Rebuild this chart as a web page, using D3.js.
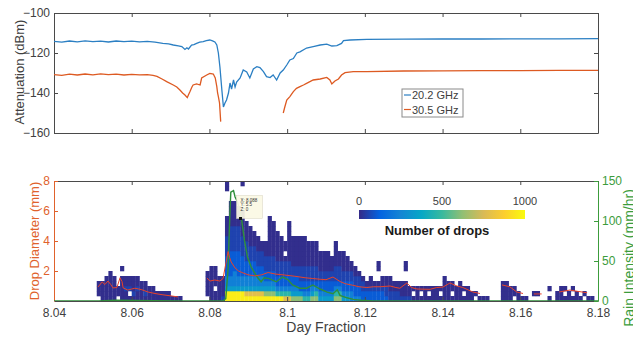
<!DOCTYPE html>
<html>
<head>
<meta charset="utf-8">
<script src="https://cdn.jsdelivr.net/npm/d3@7"></script>
<style>
  body { margin: 0; background: #fff; }
  svg { display: block; font-family: "Liberation Sans", Arial, Helvetica, sans-serif; }
</style>
</head>
<body>
<svg id="chart" width="633" height="337"></svg>
<script>
// ---- data ----
const xTicks = [8.04, 8.06, 8.08, 8.10, 8.12, 8.14, 8.16, 8.18];
const xTickLabels = ['8.04', '8.06', '8.08', '8.1', '8.12', '8.14', '8.16', '8.18'];
const attnTicks = [-160, -140, -120, -100];
const diamTicks = [2, 4, 6, 8];
const rainTicks = [0, 50, 100, 150];
const countTicks = [0, 500, 1000];

// 20.2 GHz beacon
const attn20Day = [8.0400, 8.0420, 8.0440, 8.0460, 8.0480, 8.0500, 8.0520, 8.0540, 8.0560, 8.0580,
  8.0600, 8.0620, 8.0640, 8.0660, 8.0680, 8.0695, 8.0707, 8.0720, 8.0729, 8.0737,
  8.0742, 8.0746, 8.0754, 8.0760, 8.0767, 8.0775, 8.0784, 8.0792, 8.0801, 8.0808,
  8.0814, 8.0819, 8.0823, 8.0827, 8.0832, 8.0836, 8.0840, 8.0844, 8.0849, 8.0853,
  8.0857, 8.0862, 8.0866, 8.0870, 8.0879, 8.0887, 8.0896, 8.0904, 8.0913, 8.0922,
  8.0930, 8.0939, 8.0947, 8.0956, 8.0964, 8.0973, 8.0982, 8.0990, 8.0999, 8.1007,
  8.1016, 8.1025, 8.1033, 8.1050, 8.1067, 8.1085, 8.1102, 8.1115, 8.1128, 8.1140,
  8.1145, 8.1162, 8.1205, 8.1300, 8.1400, 8.1500, 8.1600, 8.1700, 8.1800];
const attn20Val = [-114.2, -114.6, -114.0, -114.4, -113.9, -114.3, -114.1, -114.5, -114.0, -114.3,
  -114.1, -114.4, -114.2, -114.6, -115.2, -115.4, -116.0, -116.4, -116.8, -118.2,
  -117.4, -118.0, -116.0, -115.8, -115.2, -114.6, -114.3, -113.8, -113.5, -113.9,
  -114.5, -116.0, -120.0, -127.0, -138.5, -147.0, -145.0, -143.5, -140.0, -135.0,
  -138.0, -133.5, -137.0, -134.5, -132.5, -128.5, -129.5, -132.5, -128.0, -126.8,
  -127.3, -129.3, -131.8, -132.3, -131.0, -133.5, -130.0, -128.5, -126.0, -123.5,
  -122.8, -120.0, -119.4, -117.5, -116.8, -116.0, -115.6, -116.5, -116.3, -115.2,
  -113.8, -113.5, -113.2, -113.1, -113.0, -113.0, -112.9, -112.9, -112.8];

// 30.5 GHz beacon (null = no signal)
const attn30Day = [8.0400, 8.0420, 8.0440, 8.0460, 8.0480, 8.0500, 8.0520, 8.0540, 8.0560, 8.0580,
  8.0600, 8.0620, 8.0640, 8.0655, 8.0665, 8.0678, 8.0690, 8.0707, 8.0716, 8.0724,
  8.0731, 8.0737, 8.0743, 8.0747, 8.0750, 8.0755, 8.0758, 8.0767, 8.0776, 8.0780,
  8.0793, 8.0801, 8.0810, 8.0815, 8.0819, 8.0821, 8.0823, 8.0826, 8.0829, 8.0900,
  8.0990, 8.0994, 8.0999, 8.1007, 8.1016, 8.1024, 8.1033, 8.1042, 8.1050, 8.1067,
  8.1085, 8.1102, 8.1110, 8.1115, 8.1123, 8.1132, 8.1140, 8.1149, 8.1170, 8.1205,
  8.1300, 8.1400, 8.1500, 8.1600, 8.1700, 8.1800];
const attn30Val = [-130.8, -131.2, -130.6, -131.0, -130.5, -130.9, -130.4, -130.8, -130.6, -131.0,
  -130.7, -130.9, -130.8, -131.2, -131.7, -133.0, -134.3, -136.0, -137.0, -138.5,
  -140.0, -141.0, -142.3, -140.5, -139.3, -137.0, -136.0, -135.5, -136.0, -132.5,
  -131.0, -130.2, -130.5, -132.5, -136.8, -140.0, -141.8, -145.0, -154.3, null,
  -150.0, -147.0, -143.5, -141.8, -139.3, -137.7, -136.8, -136.0, -135.2, -133.5,
  -133.0, -132.2, -133.5, -135.5, -134.0, -133.0, -131.0, -129.8, -129.3, -129.3,
  -129.0, -128.9, -128.8, -128.8, -128.7, -128.7];

// disdrometer histogram: one string per time bin, drop-size rows from the bottom up,
// digit = count class ('.' = no drops)
const dropBinStart = 8.04;
const dropBinWidth = 0.001;   // day
const dropRowHeight = 1 / 3;  // mm
const dropClassCounts = [0, 8, 55, 110, 230, 330, 470, 620, 780, 960];
const dropCols = [
  "", "", "", "", "", "", "", "", "", "",
  "", ".111", "1111", "11111", "111111", "11111", ".11", "11111.1", "11211", "1.211",
  "12111", "11211", "1111", "1211", "111", "111", "11", "11", "11", "11",
  "1", "1", "1", "", "", "", "", "", "", ".11111",
  "1111111", "11.1111", "11111", "21111", "99544333322221111.....11", "99544333332222211111",
  "99544433332222211111", "9954433333222221111", "995443333222211111.....1", "9854433322221111",
  "985443332221111", "98544333222111", "9854433222111", "985443322211", "975433222111",
  "97543322211111111", "9754332221111111", "96433222111111", "9643322211111", "864332221.11",
  "8643322211111111", "7543322111111", "7543322111111", "7533222111111", "6433222111111",
  "643322211111", "754322211111", "764322211111", "5433221111", "5433221111",
  "5433221111", "543322111", "764322211111", "7643222111", "5433221111",
  "543322111", "44332211", "4332211", "433221", "33221",
  "3321", "33211", "3321", "3321..11", "33211", "32211", "22111", "2211", "2211", "2111",
  "2111..11", "211", "1.1", "111", "1.1", "111", "1.1", "111", "111", "1.1",
  "11111", "1111", "1.11", "111", "1111", "1.1", "111", "11", ".1", "1",
  "1", "1", "", "", "", "1111", "1111", "111", ".11", "11",
  "1", "1", "", ".1", ".1", "", "", "1.1", "", "11",
  "111", "1.1", "11", "1.1", "11", "1", ".1", "1", "1", ""
];

// mean drop diameter (mm), null = gap
const diamDay = [8.0513, 8.0524, 8.0531, 8.0539, 8.0546, 8.0552, 8.0562, 8.0570, 8.0575, 8.0578,
  8.0590, 8.0600, 8.0608, 8.0618, 8.0626, 8.0642, 8.0660, 8.0678, 8.0704, 8.0719,
  8.0750, 8.0794, 8.0801, 8.0814, 8.0827, 8.0835, 8.0843, 8.0848, 8.0852, 8.0856,
  8.0866, 8.0875, 8.0884, 8.0899, 8.0917, 8.0935, 8.0951, 8.0969, 8.0994, 8.1020,
  8.1046, 8.1066, 8.1085, 8.1100, 8.1118, 8.1136, 8.1150, 8.1169, 8.1185, 8.1205,
  8.1222, 8.1239, 8.1265, 8.1280, 8.1290, 8.1308, 8.1320, 8.1334, 8.1368, 8.1385,
  8.1401, 8.1419, 8.1437, 8.1452, 8.1478, 8.1496, 8.1520, 8.1553, 8.1573, 8.1591,
  8.1607, 8.1620, 8.1635, 8.1655, 8.1680, 8.1700, 8.1710, 8.1728, 8.1746, 8.1772];
const diamVal = [0.93, 1.27, 1.10, 1.33, 1.10, 0.87, 0.90, 1.55, 1.30, 0.87,
  0.73, 0.80, 0.85, 0.80, 0.75, 0.60, 0.50, 0.42, 0.33, 0.27,
  null, 1.53, 1.33, 1.40, 1.33, 1.50, 2.60, 3.30, 2.90, 2.60,
  2.20, 2.00, 1.90, 1.75, 1.67, 1.75, 1.90, 1.80, 1.73, 1.65,
  1.55, 1.50, 1.45, 1.42, 1.60, 1.30, 1.15, 1.05, 0.95, 0.90,
  0.95, 0.95, 1.00, 0.90, 0.85, 1.20, 0.90, 0.80, 0.78, 0.90,
  0.93, 1.20, 1.00, 0.90, 0.60, 0.50, null, 1.07, 0.95, 0.60,
  0.50, null, 0.47, 0.47, null, 0.60, 0.65, 0.73, 0.65, 0.55];

// rain intensity (mm/hr)
const rainDay = [8.0400, 8.0515, 8.0560, 8.0660, 8.0720, 8.0800, 8.0835, 8.0842, 8.0848, 8.0852,
  8.0855, 8.0862, 8.0866, 8.0872, 8.0882, 8.0890, 8.0898, 8.0907, 8.0915, 8.0923,
  8.0933, 8.0941, 8.0954, 8.0972, 8.0988, 8.1001, 8.1014, 8.1032, 8.1050, 8.1066,
  8.1085, 8.1103, 8.1118, 8.1129, 8.1136, 8.1154, 8.1170, 8.1190, 8.1220, 8.1800];
const rainVal = [0, 0, 1, 0.5, 0, 0, 0, 3, 40, 100,
  136, 138, 130, 124, 105, 76, 55, 43, 36, 30,
  24, 29, 28, 24, 30, 27, 20, 16, 16, 20,
  15, 11, 9, 14, 7, 4, 2, 1, 0, 0];

// data tip
const tipX = 8.088, tipY = 5.5, tipZ = 0;

// ---- drawing ----
const svg = d3.select('#chart');
const grey = '#4a4a4a', textGrey = '#404040';
const orange = '#e0622c', green = '#3c9c3c';
const parulaStops = ['#352a87', '#0363e1', '#1485d4', '#06a7c6', '#38b99e', '#92bf73', '#d9ba56', '#fcce2e', '#f9fb0e'];
const color = d3.scaleLinear().domain(d3.range(9).map(i => i * 125)).range(parulaStops).clamp(true);

const x = d3.scaleLinear().domain([8.04, 8.18]).range([54, 598]);
const yAttn = d3.scaleLinear().domain([-160, -100]).range([133, 13]);
const yDiam = d3.scaleLinear().domain([0, 8]).range([301, 181]);
const yRain = d3.scaleLinear().domain([0, 150]).range([301, 181]);
const xCount = d3.scaleLinear().domain([0, 1000]).range([359, 525]);

function styleAxis(g, lineColor, txtColor, size) {
  g.select('.domain').attr('stroke', lineColor).attr('stroke-width', 1);
  g.selectAll('.tick line').attr('stroke', lineColor);
  g.selectAll('.tick text').attr('fill', txtColor).style('font-size', size + 'px');
}

// ===== top panel =====
const topPanel = svg.append('g');
topPanel.append('g').attr('transform', 'translate(0,133)')
  .call(d3.axisBottom(x).tickValues(xTicks).tickSize(-4).tickSizeOuter(0).tickFormat(''))
  .call(g => styleAxis(g, grey, textGrey, 12));
topPanel.append('g').attr('transform', 'translate(0,13)')
  .call(d3.axisTop(x).tickValues(xTicks).tickSize(-4).tickSizeOuter(0).tickFormat(''))
  .call(g => styleAxis(g, grey, textGrey, 12));
topPanel.append('g').attr('transform', 'translate(54,0)')
  .call(d3.axisLeft(yAttn).tickValues(attnTicks).tickSize(-4).tickSizeOuter(0).tickPadding(4))
  .call(g => styleAxis(g, grey, textGrey, 12));
topPanel.append('g').attr('transform', 'translate(598,0)')
  .call(d3.axisRight(yAttn).tickValues(attnTicks).tickSize(-4).tickSizeOuter(0).tickFormat(''))
  .call(g => styleAxis(g, grey, textGrey, 12));

const attnLine = d3.line().defined(d => d[1] !== null).x(d => x(d[0])).y(d => yAttn(d[1]));
topPanel.append('path').datum(attn20Day.map((d, i) => [d, attn20Val[i]]))
  .attr('d', attnLine).attr('fill', 'none').attr('stroke', '#2b7fc3').attr('stroke-width', 1.3);
topPanel.append('path').datum(attn30Day.map((d, i) => [d, attn30Val[i]]))
  .attr('d', attnLine).attr('fill', 'none').attr('stroke', '#dd5a22').attr('stroke-width', 1.3);

topPanel.append('text')
  .attr('transform', 'translate(24,72) rotate(-90)')
  .attr('text-anchor', 'middle').attr('fill', textGrey).style('font-size', '13px')
  .text('Attenuation (dBm)');

// legend
const leg = topPanel.append('g').attr('transform', 'translate(402,89)');
leg.append('rect').attr('width', 61).attr('height', 28).attr('fill', '#fff').attr('stroke', '#8a8a8a');
[['20.2 GHz', '#2b7fc3'], ['30.5 GHz', '#dd5a22']].forEach((s, i) => {
  leg.append('line').attr('x1', 2).attr('x2', 9).attr('y1', 6 + i * 14.5).attr('y2', 6 + i * 14.5)
    .attr('stroke', s[1]).attr('stroke-width', 1.2);
  leg.append('text').attr('x', 10).attr('y', 10 + i * 14.5).attr('fill', textGrey)
    .style('font-size', '11px').text(s[0]);
});

// ===== bottom panel =====
const botPanel = svg.append('g');
svg.append('clipPath').attr('id', 'clipBot').append('rect')
  .attr('x', 54).attr('y', 181).attr('width', 544).attr('height', 120);

const cells = [];
dropCols.forEach((s, i) => {
  s.split('').forEach((ch, r) => {
    if (ch !== '.') cells.push({ day: dropBinStart + i * dropBinWidth, row: r, count: dropClassCounts[+ch] });
  });
});
botPanel.append('g').attr('clip-path', 'url(#clipBot)')
  .selectAll('rect').data(cells).join('rect')
  .attr('x', d => x(d.day))
  .attr('y', d => yDiam((d.row + 1) * dropRowHeight))
  .attr('width', d => x(d.day + dropBinWidth) - x(d.day) + 0.3)
  .attr('height', d => yDiam(d.row * dropRowHeight) - yDiam((d.row + 1) * dropRowHeight) + 0.3)
  .attr('fill', d => color(d.count));

// axes
botPanel.append('g').attr('transform', 'translate(0,301)')
  .call(d3.axisBottom(x).tickValues(xTicks).tickSize(-4).tickSizeOuter(0).tickPadding(7)
    .tickFormat((d, i) => xTickLabels[i]))
  .call(g => styleAxis(g, grey, textGrey, 12));
botPanel.append('g').attr('transform', 'translate(0,181)')
  .call(d3.axisTop(x).tickValues(xTicks).tickSize(-4).tickSizeOuter(0).tickFormat(''))
  .call(g => styleAxis(g, grey, textGrey, 12));
botPanel.append('g').attr('transform', 'translate(54,0)')
  .call(d3.axisLeft(yDiam).tickValues(diamTicks).tickSize(-4).tickSizeOuter(0).tickPadding(4))
  .call(g => styleAxis(g, orange, orange, 12));
botPanel.append('g').attr('transform', 'translate(598,0)')
  .call(d3.axisRight(yRain).tickValues(rainTicks).tickSize(-4).tickSizeOuter(0).tickPadding(4))
  .call(g => styleAxis(g, green, green, 12));

// lines
const lines = botPanel.append('g').attr('clip-path', 'url(#clipBot)');
lines.append('path')
  .datum(rainDay.map((d, i) => [d, rainVal[i]]))
  .attr('d', d3.line().x(d => x(d[0])).y(d => yRain(d[1])))
  .attr('fill', 'none').attr('stroke', '#2f8f3a').attr('stroke-width', 1.4);
lines.append('path')
  .datum(diamDay.map((d, i) => [d, diamVal[i]]))
  .attr('d', d3.line().defined(d => d[1] !== null).x(d => x(d[0])).y(d => yDiam(d[1])))
  .attr('fill', 'none').attr('stroke', '#e8432a').attr('stroke-width', 1);

// axis titles
botPanel.append('text')
  .attr('transform', 'translate(39,241) rotate(-90)')
  .attr('text-anchor', 'middle').attr('fill', orange).style('font-size', '13px')
  .text('Drop Diameter (mm)');
botPanel.append('text')
  .attr('transform', 'translate(634,258) rotate(-90)')
  .attr('text-anchor', 'middle').attr('fill', green).style('font-size', '14px')
  .text('Rain Intensity (mm/hr)');
botPanel.append('text')
  .attr('x', 326).attr('y', 332)
  .attr('text-anchor', 'middle').attr('fill', textGrey).style('font-size', '14px')
  .text('Day Fraction');

// data tip
const px = x(tipX), py = yDiam(tipY);
const tip = botPanel.append('g');
tip.append('rect').attr('x', px - 4).attr('y', py - 23).attr('width', 26).attr('height', 23)
  .attr('fill', '#fbf8e4').attr('fill-opacity', 0.92).attr('stroke', '#d8d4c0').attr('stroke-width', 0.5);
['X: ' + tipX, 'Y: ' + tipY, 'Z: ' + tipZ].forEach((t, i) => {
  tip.append('text').attr('x', px).attr('y', py - 17 + i * 4.6)
    .attr('fill', '#333').style('font-size', '4.5px').text(t);
});
tip.append('rect').attr('x', px - 1.5).attr('y', py - 1.5).attr('width', 3).attr('height', 3).attr('fill', '#111');

// colorbar
const grad = svg.append('defs').append('linearGradient').attr('id', 'parula');
parulaStops.forEach((c, i) => grad.append('stop').attr('offset', (i / 8 * 100) + '%').attr('stop-color', c));
const cb = svg.append('g');
cb.append('rect').attr('x', xCount(0)).attr('y', 210).attr('width', xCount(1000) - xCount(0)).attr('height', 9)
  .attr('fill', 'url(#parula)');
cb.selectAll('text.ct').data(countTicks).join('text').attr('class', 'ct')
  .attr('x', d => xCount(d)).attr('y', 205).attr('text-anchor', 'middle')
  .attr('fill', textGrey).style('font-size', '11px').text(d => d);
cb.append('text').attr('x', 437).attr('y', 235).attr('text-anchor', 'middle')
  .attr('fill', '#1a1a1a').style('font-size', '13px').style('font-weight', 'bold')
  .text('Number of drops');
</script>
</body>
</html>
